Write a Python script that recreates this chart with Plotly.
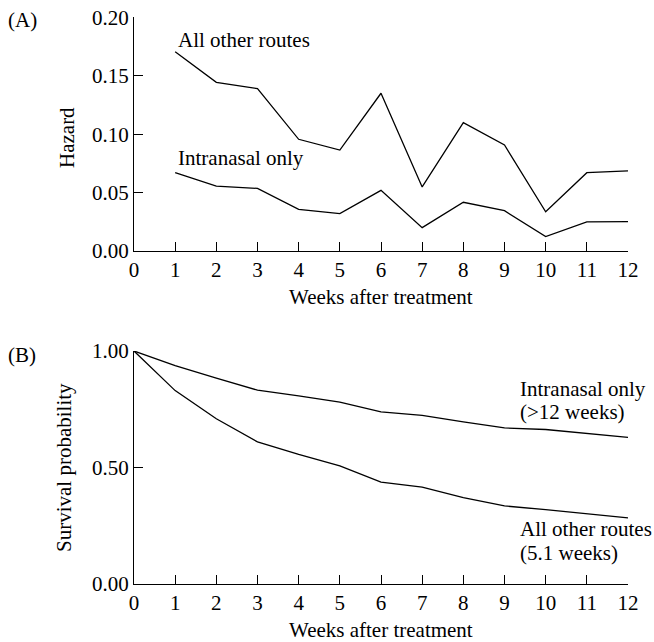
import plotly.graph_objects as go

weeks_hazard = [1, 2, 3, 4, 5, 6, 7, 8, 9, 10, 11, 12]
hazard_other = [0.1706, 0.1444, 0.1390, 0.0956, 0.0864, 0.1350, 0.0548, 0.1098, 0.0907, 0.0336, 0.0670, 0.0685]
hazard_intranasal = [0.0670, 0.0556, 0.0536, 0.0357, 0.0320, 0.0519, 0.0200, 0.0417, 0.0345, 0.0123, 0.0250, 0.0251]

weeks_surv = [0, 1, 2, 3, 4, 5, 6, 7, 8, 9, 10, 11, 12]
surv_intranasal = [1.0, 0.937, 0.884, 0.832, 0.807, 0.781, 0.739, 0.7235, 0.696, 0.670, 0.663, 0.646, 0.629]
surv_other = [1.0, 0.830, 0.709, 0.610, 0.556, 0.507, 0.437, 0.4155, 0.371, 0.335, 0.319, 0.302, 0.284]

x_ticks = list(range(0, 13))
hazard_ticks = [0.0, 0.05, 0.10, 0.15, 0.20]
hazard_ticklabels = ["0.00", "0.05", "0.10", "0.15", "0.20"]
surv_ticks = [0.0, 0.5, 1.0]
surv_ticklabels = ["0.00", "0.50", "1.00"]

FONT = "Liberation Serif, Times New Roman, serif"
FS = 21
W, H = 654, 642

def px_x(p):
    return p / W

def px_y(p):
    return 1 - p / H

fig = go.Figure()
line = dict(color="black", width=1.3)
fig.add_trace(go.Scatter(x=weeks_hazard, y=hazard_other, mode="lines", line=line, xaxis="x", yaxis="y", showlegend=False))
fig.add_trace(go.Scatter(x=weeks_hazard, y=hazard_intranasal, mode="lines", line=line, xaxis="x", yaxis="y", showlegend=False))
fig.add_trace(go.Scatter(x=weeks_surv, y=surv_intranasal, mode="lines", line=line, xaxis="x2", yaxis="y2", showlegend=False))
fig.add_trace(go.Scatter(x=weeks_surv, y=surv_other, mode="lines", line=line, xaxis="x2", yaxis="y2", showlegend=False))

xdom = [px_x(134), px_x(628)]
axis_common = dict(showline=True, linecolor="black", linewidth=1.3, mirror=False,
                   ticks="inside", ticklen=9, tickwidth=1.3, tickcolor="black",
                   showgrid=False, zeroline=False, automargin=False,
                   ticklabeloverflow="allow",
                   tickfont=dict(family=FONT, size=FS, color="black"))

fig.update_layout(
    template="none",
    width=W, height=H,
    margin=dict(l=0, r=0, t=0, b=0, pad=0),
    paper_bgcolor="white", plot_bgcolor="white",
    font=dict(family=FONT, size=FS, color="black"),
    xaxis=dict(domain=xdom, range=[0, 12], tickvals=x_ticks, anchor="y", **axis_common),
    yaxis=dict(domain=[px_y(251), px_y(17.3)], range=[0, 0.2], tickvals=hazard_ticks,
               ticktext=hazard_ticklabels, anchor="x", **axis_common),
    xaxis2=dict(domain=xdom, range=[0, 12], tickvals=x_ticks, anchor="y2", **axis_common),
    yaxis2=dict(domain=[px_y(584), px_y(351)], range=[0, 1], tickvals=surv_ticks,
                ticktext=surv_ticklabels, anchor="x2", **axis_common),
)

def ann(text, x, y, xref="paper", yref="paper", xanchor="left", yanchor="middle", angle=0):
    fig.add_annotation(text=text, x=x, y=y, xref=xref, yref=yref, xanchor=xanchor,
                       yanchor=yanchor, showarrow=False, textangle=angle,
                       font=dict(family=FONT, size=FS, color="black"))

# panel labels
ann("(A)", px_x(6), px_y(20))
ann("(B)", px_x(6), px_y(355))
# axis titles
ann("Hazard", px_x(67), px_y(138), xanchor="center", angle=-90)
ann("Survival probability", px_x(64), px_y(468), xanchor="center", angle=-90)
ann("Weeks after treatment", px_x(381), px_y(297), xanchor="center")
ann("Weeks after treatment", px_x(381), px_y(630), xanchor="center")
# series labels
ann("All other routes", px_x(176), px_y(40))
ann("Intranasal only", px_x(176), px_y(158))
ann("Intranasal only", px_x(518), px_y(389))
ann("(&gt;12 weeks)", px_x(518), px_y(412))
ann("All other routes", px_x(518), px_y(529))
ann("(5.1 weeks)", px_x(518), px_y(552.5))

fig.write_html(
    "out.html",
    config={"displayModeBar": False},
    post_script="document.body.style.margin='0px';document.body.style.overflow='hidden';",
)
